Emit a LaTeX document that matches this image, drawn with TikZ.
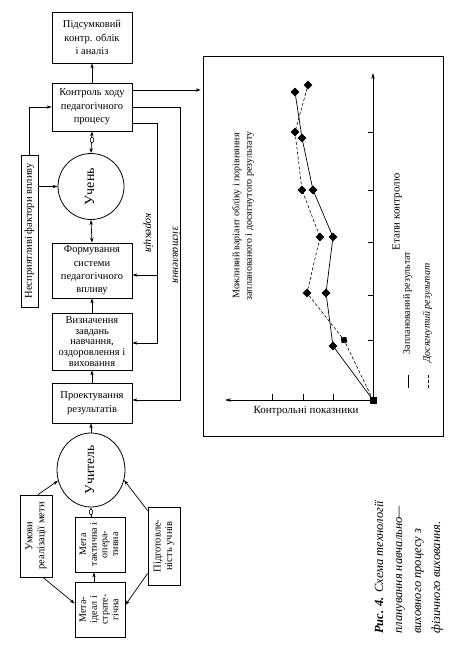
\documentclass[tikz,border=0pt]{standalone}
\usepackage{fontspec}
\setmainfont{Liberation Serif}
\usepackage{graphicx}
\usetikzlibrary{arrows.meta,shapes.geometric,plotmarks}
\newcommand\rtext[3][90]{\rotatebox{#1}{#2\begin{tabular}{@{}c@{}}#3\end{tabular}}}
\begin{document}
\begin{tikzpicture}[x=1pt,y=-1pt,
  box/.style={draw, line width=0.8pt, align=center, inner sep=1pt, font=\fontsize{10.5}{13.5}\selectfont},
  tip/.style={-{Stealth[length=5pt,width=3.4pt]}},
  arr/.style={line width=0.7pt, -{Stealth[length=5pt,width=3.4pt]}},
  arrtwo/.style={line width=0.7pt, {Stealth[length=5pt,width=3.4pt]}-{Stealth[length=5pt,width=3.4pt]}},
  dot/.style={draw, line width=0.6pt, fill=white, ellipse, inner sep=0pt, minimum width=3.6pt, minimum height=5.5pt},
  thinline/.style={line width=0.6pt},
  dashline/.style={line width=0.6pt, dash pattern=on 3pt off 2pt},
  plain/.style={inner sep=0pt}
]
\useasboundingbox (0,0) rectangle (456,658);

% ---------- left flow chart ----------
\node[box, minimum width=80pt, minimum height=51pt] (pid) at (92,37.5) {Підсумковий\\контр. облік\\і аналіз};
\node[box, minimum width=80pt, minimum height=48pt] (ctrl) at (92,107) {Контроль ходу\\педагогічного\\процесу};
\node[box, circle, minimum size=66pt, inner sep=0pt] (uchen) at (91,186.5) {\rtext{\fontsize{14}{16}\selectfont}{Учень}};
\node[box, minimum width=80pt, minimum height=55pt, font=\fontsize{10.5}{13.4}\selectfont] (form) at (92,270.5) {Формування\\системи\\педагогічного\\впливу};
\node[box, minimum width=80pt, minimum height=57pt, font=\fontsize{10.5}{10.8}\selectfont] (vyzn) at (92,341.5) {Визначення\\завдань\\навчання,\\оздоровлення і\\виховання};
\node[box, minimum width=80pt, minimum height=40pt] (proekt) at (92,403) {Проектування\\результатів};
\node[box, ellipse, minimum width=68pt, minimum height=74pt, inner sep=0pt] (uchyt) at (91,470) {\rtext{\fontsize{13.5}{15}\selectfont}{Учитель}};
\node[box, minimum width=50pt, minimum height=55pt, inner sep=0pt] (takt) at (100,544.5) {\rtext{\fontsize{10}{10.6}\selectfont}{Мета\\тактична і\\опера-\\тивна}};
\node[box, minimum width=50pt, minimum height=55pt, inner sep=0pt] (ideal) at (100,609.5) {\rtext{\fontsize{10}{10.8}\selectfont}{Мета-\\ідеал і\\страте-\\гічна}};
\node[box, minimum width=32pt, minimum height=82pt, inner sep=0pt] (umovy) at (36,536) {\rtext{\fontsize{10.5}{12}\selectfont}{Умови\\реалізації мети}};
\node[box, minimum width=32pt, minimum height=78pt, inner sep=0pt] (pidg) at (164,546) {\rtext{\fontsize{10.5}{11.5}\selectfont}{Підготовле-\\ність учнів}};
\node[box, minimum width=17pt, minimum height=152pt, inner sep=0pt] (nespr) at (29.5,231) {\rtext{\fontsize{10.5}{12}\selectfont}{Несприятливі фактори впливу}};

% connectors
\draw[arr] (ctrl.north) -- (pid.south);
\draw[arrtwo] (ctrl.south) -- (uchen.north);
\node[dot] (d1) at (92,140) {};
\draw[arrtwo] (uchen.south) -- (form.north);
\draw[arr] (vyzn.north) -- (form.south);
\draw[arr] (proekt.north) -- (vyzn.south);
\draw[arr] (uchyt.north) -- (uchyt.north |- proekt.south);
\draw[arr] (takt.north -| uchyt.south) -- (uchyt.south);
\node[dot] (d2) at (91,512) {};
\draw[arr] ([xshift=-6pt]ideal.north) -- ([xshift=-6pt]takt.south);
\draw[arr] ([xshift=2pt]umovy.north) -- (uchyt.198);
\draw[arr] ([xshift=7pt]umovy.south) -- ([yshift=6pt]ideal.west);
\draw[arr] ([yshift=-4pt]pidg.north west) -- (uchyt.343);
\draw[arr] ([yshift=12pt]pidg.south west) -- ([yshift=4.5pt]ideal.east);
\draw[arr] (nespr.north) |- (ctrl.west);
\draw[arr] (nespr.east |- uchen.center) -- (uchen.west);

% feedback lines
\coordinate (k0) at ([yshift=-16pt]ctrl.east);
\coordinate (kcor) at (157,343);
\coordinate (kform) at (157,275);
\coordinate (zist) at (180,400);
\draw[arr] (k0) -| (kcor) -- (kcor -| vyzn.east);
\draw[arr] (kform) -- (kform -| form.east);
\draw[arr] (ctrl.east) -| (zist) -- (zist -| proekt.east);
\node[plain] (korl) at (148.5,233) {\rtext[-90]{\fontsize{11}{13}\selectfont\itshape}{корекція}};
\node[plain] (zistl) at (175.5,255) {\rtext[-90]{\fontsize{11}{13}\selectfont\itshape}{зіставлення}};

% ---------- chart ----------
\node[draw, line width=0.7pt, minimum width=240pt, minimum height=380pt, inner sep=0pt] (chart) at (323,246) {};
\coordinate (c1) at ([yshift=17pt]ctrl.east);
\draw[arr, shorten >=2pt] (c1) -- (c1 -| chart.west);

\coordinate (O) at (373,400);
\coordinate (ytop) at (373,73);
\coordinate (xend) at (225,400);
\draw[thinline, -{Stealth[length=6pt,width=3.4pt]}] (O) -- (ytop);
\draw[thinline, -{Stealth[length=6pt,width=3.4pt]}] (O) -- (xend);
\foreach \yy in {132,190,242,295,340} \draw[thinline] (373,\yy) -- (368,\yy);
\foreach \xx in {272,303,333} \draw[thinline] (\xx,400) -- (\xx,394);

\draw[line width=0.7pt] plot[mark=square*, mark indices={2,...,7}, mark size=2.8pt, mark options={rotate=45}]
  coordinates {(373,400) (333,346) (326,293) (333,237) (313,190) (302,138) (295,92)};
\draw[dashline] plot[mark=square*, mark indices={3,...,7}, mark size=2.8pt, mark options={solid, rotate=45}]
  coordinates {(373,400) (344,340) (307,293) (320,237) (302,190) (295,132) (308,85)};
\node[fill, inner sep=0pt, minimum size=5.6pt, rotate=8] (sq) at (344,340) {};
\node[fill, inner sep=0pt, minimum size=7pt] (orig) at (O) {};

\node[plain] (mozh) at (243,216) {\rtext{\fontsize{10}{12.5}\selectfont}{Можливий варіант обліку і порівняння\\запланованого і досягнутого результату}};
\node[plain] (etapy) at (397,212) {\rtext{\fontsize{11}{13}\selectfont}{Етапи контролю}};
\node[plain] (kontr) at (306,411) {\fontsize{11}{13}\selectfont Контрольні показники};

\coordinate (l1a) at (408,375); \coordinate (l1b) at (408,388);
\coordinate (l2a) at (428,375); \coordinate (l2b) at (428,388);
\draw[line width=0.7pt] (l1a) -- (l1b);
\draw[dashline] (l2a) -- (l2b);
\node[plain] (leg1) at (407.5,303) {\rtext{\fontsize{10}{12}\selectfont}{Запланований результат}};
\node[plain] (leg2) at (427.5,313) {\rtext{\fontsize{10}{12}\selectfont\itshape}{Досягнутий результат}};

% ---------- caption ----------
\node[plain, anchor=south west] (cap) at (369.5,634) {\rotatebox{90}{\fontsize{12.5}{19}\selectfont\itshape\begin{tabular}{@{}l@{}}\textbf{Рис. 4.} Схема технології\\планування навчально—\\виховного процесу з\\фізичного виховання.\end{tabular}}};
\end{tikzpicture}
\end{document}
